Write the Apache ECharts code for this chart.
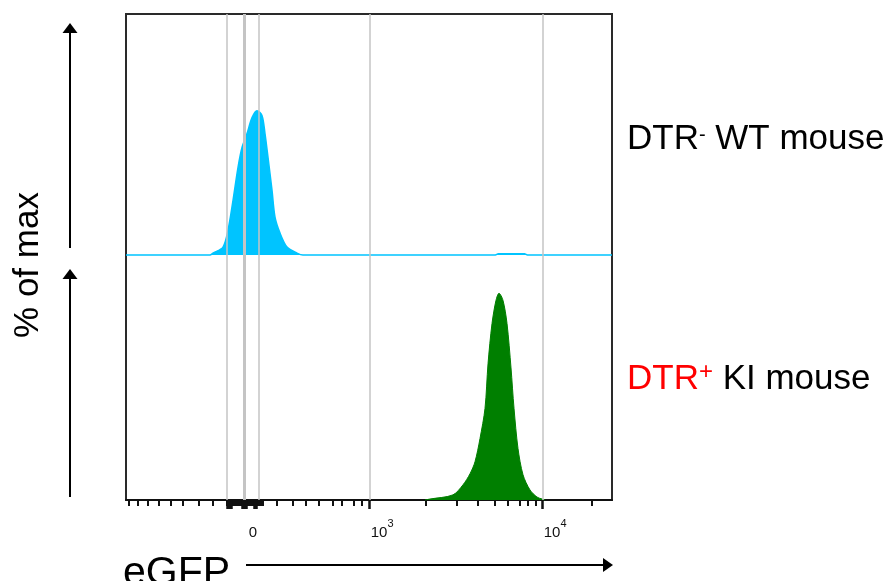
<!DOCTYPE html>
<html>
<head>
<meta charset="utf-8">
<script src="https://cdn.jsdelivr.net/npm/echarts@6/dist/echarts.min.js"></script>
<style>
  html, body { margin: 0; padding: 0; background: #fff; }
  #chart { width: 890px; height: 581px; }
</style>
</head>
<body>
<div id="chart"></div>
<script>
// eGFP 通道 (0-1000 显示单位, 双指数刻度)
var wtX = [0, 172.8, 179.0, 199.6, 209.9, 220.2, 230.5, 238.7, 249.0, 259.3, 269.5, 279.8, 286.0, 292.2, 300.4, 306.6, 316.9, 331.3, 351.9, 364.2, 760, 766, 820, 826, 1000];
var wtY = [0, 0, 0.8, 3.3, 10.3, 22.7, 36.4, 44.6, 50.4, 57.0, 59.9, 57.9, 50.4, 40.5, 26.9, 15.7, 9.1, 3.3, 0.8, 0, 0, 0.5, 0.5, 0, 0];
var kiX = [615.2, 625.5, 672.8, 693.4, 707.8, 718.1, 728.4, 738.7, 744.9, 753.1, 761.3, 767.5, 775.7, 784.0, 792.2, 798.4, 806.6, 816.9, 831.3, 845.7, 856.0, 862.1];
var kiY = [0, 0.4, 2.1, 6.2, 10.7, 15.6, 25.1, 37.4, 55.6, 72.0, 81.5, 84.4, 81.5, 72.0, 53.9, 37.4, 21.0, 10.3, 4.1, 1.2, 0.4, 0];

// 灰色门线
var gateLines = [207.8, 242.8, 273.7, 501, 857];
// 刻度
var minorTicks = [6.2, 24.7, 45.3, 67.9, 92.6, 117.3, 150.2, 179.0,
  208, 210.5, 213, 215.5, 218, 220.5, 223, 225.5, 228, 230.5, 233, 235.5, 238, 240.5, 243, 245.5, 248,
  250.5, 253, 255.5, 258, 260.5, 263, 265.5, 268, 270.5, 273, 275.5, 278, 280.5,
  310.7, 343.6, 370.4, 397.1, 425.9, 444.4, 469.1, 485.6,
  617.3, 681.1, 724.3, 759.3, 786.0, 810.7, 827.2, 843.6, 958.8];
var majorTicks = [209, 213, 217, 240, 244, 248, 263, 267, 501, 857];
var labelPos = [261, 527, 883];
var labelText = ['{b|0}', '{b|10}{s|3}', '{b|10}{s|4}'];

var FONT = "'Liberation Sans', Arial, sans-serif";
var CYAN = '#00c4ff', GREEN = '#007f00', GATE = '#c4c4c4';

function pairs(xs, ys) {
  var out = [];
  for (var i = 0; i < xs.length; i++) out.push([xs[i], ys[i]]);
  return out;
}
function gates() {
  return {
    silent: true, symbol: 'none', animation: false,
    label: { show: false },
    lineStyle: { color: GATE, type: 'solid', width: 1.5 },
    data: gateLines.map(function (x, i) {
      return { xAxis: x, lineStyle: { color: GATE, type: 'solid', width: i == 1 ? 3 : 1.5 } };
    })
  };
}

var myChart = echarts.init(document.getElementById('chart'));
var option = {
  animation: false,
  grid: [
    { left: 126, top: 14, width: 486, height: 241, show: false },
    { left: 126, top: 255, width: 486, height: 245, show: false },
    { left: 126, top: 14, width: 486, height: 486, show: true, borderColor: '#2a2a2a', borderWidth: 2, backgroundColor: 'transparent' }
  ],
  xAxis: [
    { gridIndex: 0, type: 'value', min: 0, max: 1000, show: false },
    {
      gridIndex: 1, type: 'value', min: 0, max: 1000, position: 'bottom',
      axisLine: { show: true, onZero: false, lineStyle: { color: '#111', width: 2 } },
      axisTick: { show: true, customValues: minorTicks, length: 6, lineStyle: { color: '#111', width: 2 } },
      axisLabel: {
        customValues: labelPos, margin: 18, color: '#111',
        formatter: function (v) { return labelText[labelPos.indexOf(v)]; },
        rich: {
          b: { fontSize: 15, fontFamily: FONT, color: '#111', lineHeight: 22, verticalAlign: 'bottom' },
          s: { fontSize: 11, fontFamily: FONT, color: '#111', lineHeight: 22, verticalAlign: 'top' }
        }
      },
      splitLine: { show: false }
    },
    {
      gridIndex: 1, type: 'value', min: 0, max: 1000, position: 'bottom',
      axisLine: { show: false },
      axisTick: { show: true, customValues: majorTicks, length: 9, lineStyle: { color: '#111', width: 2.5 } },
      axisLabel: { show: false },
      splitLine: { show: false }
    },
    { gridIndex: 2, type: 'value', min: 0, max: 1, show: false }
  ],
  yAxis: [
    { gridIndex: 0, type: 'value', min: 0, max: 100, show: false },
    { gridIndex: 1, type: 'value', min: 0, max: 100, show: false },
    { gridIndex: 2, type: 'value', min: 0, max: 1, show: false }
  ],
  series: [
    { type: 'line', xAxisIndex: 0, yAxisIndex: 0, data: [], z: 1, markLine: gates() },
    { type: 'line', xAxisIndex: 1, yAxisIndex: 1, data: [], z: 1, markLine: gates() },
    {
      name: 'DTR- WT mouse', type: 'line', xAxisIndex: 0, yAxisIndex: 0,
      data: pairs(wtX, wtY), smooth: 0.3, symbol: 'none', clip: false, z: 3,
      lineStyle: { color: CYAN, width: 1.5 }, areaStyle: { color: CYAN, opacity: 1 }
    },
    {
      name: 'DTR+ KI mouse', type: 'line', xAxisIndex: 1, yAxisIndex: 1,
      data: pairs(kiX, kiY), smooth: 0.3, symbol: 'none', clip: false, z: 3,
      lineStyle: { color: GREEN, width: 1 }, areaStyle: { color: GREEN, opacity: 1 }
    }
  ],
  graphic: [
    // 右侧图例文字
    {
      type: 'text', x: 627, y: 139,
      style: {
        text: '{a|DTR}{s|-}{a| WT mouse}', verticalAlign: 'middle', align: 'left',
        rich: {
          a: { fontSize: 35, fontFamily: FONT, fill: '#000', lineHeight: 42, verticalAlign: 'middle' },
          s: { fontSize: 20, fontFamily: FONT, fill: '#000', padding: [7, 0, 0, 0], verticalAlign: 'top' }
        }
      }
    },
    {
      type: 'text', x: 627, y: 379,
      style: {
        text: '{r|DTR}{p|+}{a| KI mouse}', verticalAlign: 'middle', align: 'left',
        rich: {
          r: { fontSize: 35, fontFamily: FONT, fill: '#ff0000', lineHeight: 42, verticalAlign: 'middle' },
          p: { fontSize: 24, fontFamily: FONT, fill: '#ff0000', padding: [2, 0, 0, 0], verticalAlign: 'top' },
          a: { fontSize: 35, fontFamily: FONT, fill: '#000', lineHeight: 42, verticalAlign: 'middle' }
        }
      }
    },
    // 纵轴标题和箭头
    {
      type: 'text', x: 28, y: 265, rotation: Math.PI / 2,
      style: { text: '% of max', font: '35px ' + FONT, fill: '#000', align: 'center', verticalAlign: 'middle' }
    },
    { type: 'line', shape: { x1: 70, y1: 248, x2: 70, y2: 30 }, style: { stroke: '#000', lineWidth: 2 } },
    { type: 'polygon', shape: { points: [[62.5, 33], [77.5, 33], [70, 23]] }, style: { fill: '#000' } },
    { type: 'line', shape: { x1: 70, y1: 497, x2: 70, y2: 276 }, style: { stroke: '#000', lineWidth: 2 } },
    { type: 'polygon', shape: { points: [[62.5, 279], [77.5, 279], [70, 269]] }, style: { fill: '#000' } },
    // 横轴标题和箭头
    {
      type: 'text', x: 123, y: 594,
      style: { text: 'eGFP', font: '41px ' + FONT, fill: '#000', align: 'left', verticalAlign: 'bottom' }
    },
    { type: 'line', shape: { x1: 246, y1: 565, x2: 606, y2: 565 }, style: { stroke: '#000', lineWidth: 2 } },
    { type: 'polygon', shape: { points: [[603, 558], [613, 565], [603, 572]] }, style: { fill: '#000' } }
  ]
};
myChart.setOption(option);
window.onresize = myChart.resize;
</script>
</body>
</html>
